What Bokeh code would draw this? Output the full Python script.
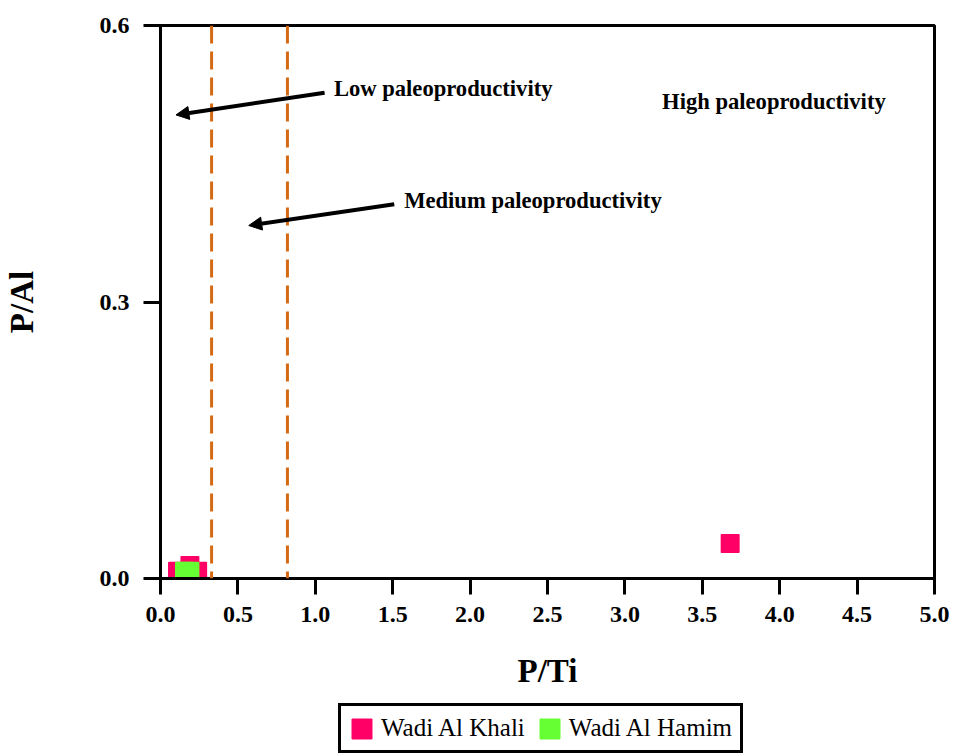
from bokeh.plotting import figure
from bokeh.layouts import column
from bokeh.models import (Span, Arrow, NormalHead, Label, Legend, LegendItem,
                          FixedTicker, NumeralTickFormatter, Range1d)
from bokeh.embed import file_html
from bokeh.resources import INLINE

# ---- data ----
khali_pti = [0.11, 0.24, 0.19, 3.68]
khali_pal = [0.008, 0.008, 0.014, 0.038]
hamim_pti = [0.155, 0.19]
hamim_pal = [0.008, 0.008]

boundaries = [0.33, 0.82]
x_ticks = [0.0, 0.5, 1.0, 1.5, 2.0, 2.5, 3.0, 3.5, 4.0, 4.5, 5.0]
y_ticks = [0.0, 0.3, 0.6]
series_names = ["Wadi Al Khali", "Wadi Al Hamim"]

KHALI = "#FF0066"
HAMIM = "#66FF33"
DASH = "#D46A13"
FONT = "Liberation Serif"

p = figure(width=955, height=702, output_backend="svg", toolbar_location=None,
           x_range=Range1d(0, 5.0), y_range=Range1d(0, 0.6),
           min_border_left=160, min_border_right=21, min_border_top=25,
           min_border_bottom=124)
p.grid.visible = False
p.outline_line_color = "black"
p.outline_line_width = 3
p.outline_line_alpha = 1.0
p.background_fill_color = "white"
p.border_fill_color = "white"

for ax, ticks in ((p.xaxis[0], x_ticks), (p.yaxis[0], y_ticks)):
    ax.ticker = FixedTicker(ticks=ticks)
    ax.formatter = NumeralTickFormatter(format="0.0")
    ax.axis_line_width = 3
    ax.major_tick_line_width = 3
    ax.major_tick_in = 0
    ax.minor_tick_line_color = None
    ax.major_label_text_font = FONT
    ax.major_label_text_font_style = "bold"
    ax.major_label_text_font_size = "24px"
    ax.major_label_text_color = "black"
    ax.axis_label_text_font = FONT
    ax.axis_label_text_font_style = "bold"
    ax.axis_label_text_font_size = "33px"
    ax.axis_label_text_color = "black"

p.xaxis.axis_label = "P/Ti"
p.yaxis.axis_label = "P/Al"
p.xaxis.major_tick_out = 16
p.yaxis.major_tick_out = 17
p.xaxis.major_label_standoff = 12
p.yaxis.major_label_standoff = 14
p.xaxis.axis_label_standoff = 28
p.yaxis.axis_label_standoff = 57

for b in boundaries:
    p.add_layout(Span(location=b, dimension="height", line_color=DASH,
                      line_width=3, line_dash="18 8"))

p.scatter(khali_pti, khali_pal, marker="square", size=17, fill_color=KHALI,
          line_color=KHALI, line_width=2, line_join="round")
p.scatter(hamim_pti, hamim_pal, marker="square", size=17, fill_color=HAMIM,
          line_color=HAMIM, line_width=2, line_join="round")

# arrows
p.add_layout(Arrow(end=NormalHead(size=13, fill_color="black", line_color="black"),
                   x_start=1.06, y_start=0.527, x_end=0.10, y_end=0.503,
                   line_width=4, line_color="black"))
p.add_layout(Arrow(end=NormalHead(size=13, fill_color="black", line_color="black"),
                   x_start=1.51, y_start=0.406, x_end=0.57, y_end=0.383,
                   line_width=4, line_color="black"))

for txt, x, y in (("Low paleoproductivity", 1.12, 0.532),
                  ("Medium paleoproductivity", 1.574, 0.410),
                  ("High paleoproductivity", 3.24, 0.5175)):
    p.add_layout(Label(x=x, y=y, text=txt, text_font=FONT, text_font_style="bold",
                       text_font_size="22.6px", text_baseline="middle",
                       text_align="left", text_color="black"))

# ---- legend strip below the chart ----
lf = figure(width=955, height=54, output_backend="svg", toolbar_location=None,
            x_range=Range1d(0, 1), y_range=Range1d(0, 1),
            min_border_left=0, min_border_right=0, min_border_top=0,
            min_border_bottom=0)
lf.axis.visible = False
lf.grid.visible = False
lf.outline_line_color = None
lf.background_fill_color = "white"
lf.border_fill_color = "white"
rk = lf.quad(left=[-10], right=[-9], bottom=[-1], top=[-0.9], fill_color=KHALI,
             line_color=KHALI)
rh = lf.quad(left=[-10], right=[-9], bottom=[-1], top=[-0.9], fill_color=HAMIM,
             line_color=HAMIM)
legend = Legend(items=[LegendItem(label=series_names[0], renderers=[rk]),
                       LegendItem(label=series_names[1], renderers=[rh])],
                orientation="horizontal", location=(178, 3),
                glyph_width=25, glyph_height=25, label_standoff=7, spacing=12,
                padding=8, margin=0, border_line_color="black",
                border_line_alpha=1.0, border_line_width=3,
                label_text_font=FONT, label_text_font_size="25px",
                label_text_color="black", background_fill_alpha=1.0)
lf.add_layout(legend, "center")

layout = column(p, lf, spacing=0)
open("out.html", "w").write(file_html(layout, INLINE))
